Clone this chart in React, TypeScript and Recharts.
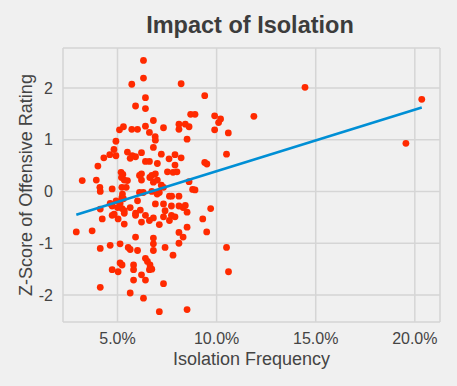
import { ScatterChart, Scatter, XAxis, YAxis, CartesianGrid, Label } from 'recharts';

// isolation frequency (%) of each team-season
const isoFreq = [
  3.22, 3.93, 4.01, 4.11, 4.13, 4.31, 4.61, 4.73, 4.82, 4.92, 4.92, 5.10, 5.30, 5.18, 5.27,
  5.20, 5.34, 5.50, 5.22, 5.44, 5.50, 5.64, 5.74, 5.91, 5.72, 6.01, 5.72, 5.91, 6.21, 6.31,
  6.31, 6.41, 6.41, 6.41, 6.61, 6.81, 6.90, 6.91, 6.81, 6.41, 6.61, 6.21, 6.11, 6.21, 6.63,
  6.73, 6.91, 7.01, 7.21, 7.32, 6.81, 7.01, 7.21, 7.32, 7.52, 7.80, 7.90, 7.90, 8.00, 7.60,
  8.21, 8.10, 8.10, 8.42, 8.61, 8.21, 8.51, 8.69, 8.91, 8.61, 9.40, 9.40, 9.51, 8.79, 8.91,
  9.90, 10.20, 10.10, 9.90, 10.59, 10.50, 11.88, 14.46, 19.55, 20.35,
  2.92, 3.72, 4.13, 4.23, 4.13, 4.13, 4.63, 4.73, 4.73, 4.83, 4.93, 5.00, 5.03, 5.13, 5.22,
  5.30, 5.23, 5.34, 5.34, 5.34, 5.64, 4.63, 5.13, 4.73, 5.03, 5.13, 5.23, 5.54, 5.64, 5.81,
  5.81, 5.81, 5.64, 5.91, 5.91, 5.91, 6.01, 6.01, 6.15, 6.21, 6.21, 6.41, 6.31, 6.41, 6.51,
  6.64, 6.61, 6.73, 6.41, 6.61, 6.81, 6.81, 6.81, 6.81, 6.91, 7.11, 7.11, 7.32, 7.32, 7.40,
  7.32, 7.40, 7.62, 7.73, 7.62, 7.72, 7.72, 7.90, 7.80, 8.10, 8.10, 8.10, 8.10, 8.31, 8.31,
  8.42, 8.51, 8.51, 8.51, 9.30, 9.50, 9.70, 10.50, 10.60,
  6.11, 6.30, 6.73, 7.11, 7.00, 5.25,
];

// z-score of offensive rating, same order
const offZ = [
  0.21, 0.22, 0.49, 0.08, 0.0, 0.65, 0.71, 0.05, 0.81, 0.97, 0.69, 1.19, 1.25, 0.37, 0.33,
  0.27, 0.22, 0.21, 0.08, 0.08, 0.76, 0.64, 0.69, 0.67, 1.20, 1.20, 2.07, 1.65, 0.75, 2.53,
  2.19, 1.81, 1.60, 1.26, 1.14, 1.37, 1.06, 0.99, 0.85, 0.58, 0.58, 0.34, 0.31, 0.22, 0.27,
  0.31, 0.34, 0.54, 0.72, 1.23, 0.18, 0.22, 0.12, 0.08, 0.38, 0.37, 0.71, 0.51, 0.38, 0.63,
  0.65, 1.20, 1.30, 1.30, 1.25, 2.08, 1.01, 1.49, 1.49, 0.19, 1.85, 0.56, 0.53, 0.04, 0.03,
  1.46, 1.40, 1.33, 1.19, 1.13, 0.72, 1.45, 2.01, 0.93, 1.78,
  -0.78, -0.76, -0.34, -0.53, -1.10, -1.85, -0.23, -0.28, -0.46, -0.44, -0.18, -0.31, -0.53, -0.23, -0.12,
  -0.14, -0.33, -0.37, -0.42, -0.63, -0.31, -1.04, -1.01, -1.51, -1.55, -1.38, -1.42, -1.08, -1.12, -1.42,
  -1.51, -1.71, -1.96, -0.88, -0.42, -0.46, -1.14, -0.18, -0.36, -0.59, -1.61, -1.71, -2.06, -1.29, -1.35,
  -1.42, -1.51, -1.50, -0.46, -0.56, -0.51, -0.90, -1.01, -1.14, -0.24, -0.64, -2.32, -0.24, -0.49, -1.08,
  -1.78, -0.37, -0.09, -0.09, -0.56, -0.46, -0.28, -0.49, -1.23, -0.09, -0.28, -0.79, -1.00, -0.88, -0.31,
  -0.27, -0.40, -0.69, -2.28, -0.53, -0.78, -0.33, -1.08, -1.55,
  -0.02, -0.02, 0.0, -0.02, -0.05, -0.05,
];

// fitted trend line, read at its two ends
const fitX = [2.92, 20.35];
const fitY = [-0.45, 1.62];

const xTicks = [5, 10, 15, 20];
const yTicks = [-2, -1, 0, 1, 2];

const points = isoFreq.map((x, i) => ({ x, y: offZ[i] }));
const fitLine = fitX.map((x, i) => ({ x, y: fitY[i] }));

const FONT = '"Liberation Sans", Arial, Helvetica, sans-serif';
const tickStyle = { fill: '#444', fontSize: 16, fontFamily: FONT };

const Dot = (props: any) => <circle cx={props.cx} cy={props.cy} r={3.4} fill="#ff2a00" />;

export default function App() {
  return (
    <div
      style={{
        position: 'fixed',
        left: 0,
        top: 0,
        width: 457,
        height: 386,
        background: '#f0f0f0',
        fontFamily: FONT,
      }}
    >
      <div
        style={{
          position: 'absolute',
          left: 0,
          width: 500,
          top: 11,
          textAlign: 'center',
          fontSize: 23.5,
          fontWeight: 'bold',
          color: '#3c3c3c',
          lineHeight: '28px',
        }}
      >
        Impact of Isolation
      </div>
      <ScatterChart width={457} height={386} margin={{ top: 48, right: 17, left: 0, bottom: 0 }}>
        <CartesianGrid stroke="#d5d5d5" strokeWidth={1.5} horizontal vertical />
        <XAxis
          type="number"
          dataKey="x"
          domain={[2.25, 21.27]}
          ticks={xTicks}
          tickFormatter={(v: number) => `${v.toFixed(1)}%`}
          axisLine={false}
          tickLine={false}
          tickSize={0}
          tickMargin={11}
          tick={tickStyle}
          height={64}
          allowDataOverflow
        >
          <Label
            value="Isolation Frequency"
            position="insideBottom"
            offset={21}
            style={{ fill: '#444', fontSize: 18, fontFamily: FONT }}
          />
        </XAxis>
        <YAxis
          type="number"
          dataKey="y"
          domain={[-2.52, 2.77]}
          ticks={yTicks}
          axisLine={false}
          tickLine={false}
          tickSize={0}
          tickMargin={10}
          tick={tickStyle}
          width={63}
          allowDataOverflow
        >
          <Label
            value="Z-Score of Offensive Rating"
            angle={-90}
            position="insideLeft"
            offset={26}
            style={{ fill: '#444', fontSize: 18, fontFamily: FONT, textAnchor: 'middle' }}
          />
        </YAxis>
        <Scatter data={points} shape={Dot} isAnimationActive={false} />
        <Scatter
          data={fitLine}
          line={{ stroke: '#008fd5', strokeWidth: 2.6 }}
          shape={() => null}
          isAnimationActive={false}
        />
      </ScatterChart>
    </div>
  );
}
